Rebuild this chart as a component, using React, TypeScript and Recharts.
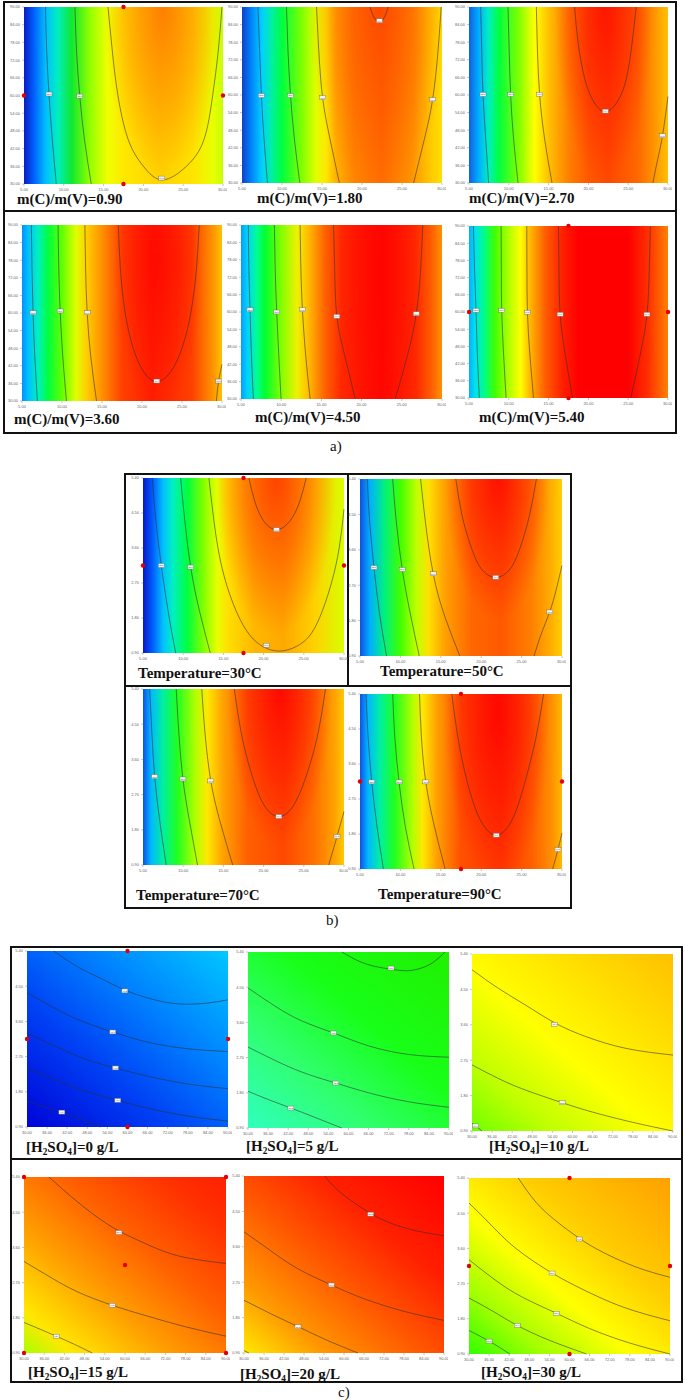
import React from 'react';
import { ComposedChart, Line, Scatter, XAxis, YAxis, ReferenceArea } from 'recharts';

type P = [number, number];
type L = [number, number, string];

// axis ticks
const abXTicks = [5, 10, 15, 20, 25, 30];
const aYTicks = [30, 36, 42, 48, 54, 60, 66, 72, 78, 84, 90];
const ratioTicks = [0.9, 1.8, 2.7, 3.6, 4.5, 5.4];
const cXTicks = [30, 36, 42, 48, 54, 60, 66, 72, 78, 84, 90];

// panel titles
const aTitles = ['0.90', '1.80', '2.70', '3.60', '4.50', '5.40'];
const bTitles = ['30', '50', '70', '90'];
const cTitles = ['0', '5', '10', '15', '20', '30'];

// design points
const aDots: P[] = [[17.5, 90], [5, 60], [30, 60], [17.5, 30]];
const bDots: P[] = [[17.5, 5.4], [5, 3.15], [30, 3.15], [17.5, 0.9]];
const cDots: P[] = [[60, 5.4], [30, 3.15], [90, 3.15], [60, 0.9]];
const c4Dots: P[] = [[30, 5.4], [90, 5.4], [30, 0.9], [90, 0.9], [60, 3.15]];

// ---- a) contours
const a1Lines: P[][] = [
  [[7.7, 90], [7.85, 75], [8.15, 60], [8.55, 45], [9.05, 30]],
  [[11.4, 90], [11.6, 75], [12.0, 60], [12.6, 45], [13.45, 30]],
  [[15.55, 90], [16.1, 75], [16.8, 60], [18.1, 45], [20.0, 36], [22.4, 31.4], [25.4, 36], [27.6, 45], [28.7, 60], [29.4, 75], [29.87, 90]],
];
const a1Labels: L[] = [[8.14, 60.5, '48.5'], [12.0, 59.8, '58.0'], [22.3, 32, '67.5']];

const a2Lines: P[][] = [
  [[7.0, 90], [7.2, 75], [7.42, 60], [7.75, 45], [8.18, 30]],
  [[10.56, 90], [10.75, 75], [11.06, 60], [11.55, 45], [12.23, 30]],
  [[14.32, 90], [14.6, 75], [15.08, 59], [16.0, 45], [17.17, 30]],
  [[29.9, 90], [29.5, 75], [28.83, 58.5], [27.8, 45], [26.45, 30]],
  [[21.0, 90], [21.5, 86.5], [22.18, 84.8], [22.8, 86.5], [23.3, 90]],
];
const a2Labels: L[] = [[7.42, 59.8, '48.5'], [11.06, 59.8, '58.0'], [15.08, 59.1, '67.5'], [28.83, 58.4, '67.5'], [22.18, 85.3, '77.1']];

const a3Lines: P[][] = [
  [[6.47, 90], [6.6, 75], [6.76, 60], [7.1, 45], [7.47, 30]],
  [[9.9, 90], [10.05, 75], [10.23, 60], [10.6, 45], [11.16, 30]],
  [[13.46, 90], [13.6, 75], [13.88, 60], [14.5, 45], [15.43, 30]],
  [[18.27, 90], [18.7, 78], [19.5, 66], [20.6, 58], [22.13, 54.3], [23.7, 58], [24.8, 66], [25.5, 78], [26.0, 90]],
  [[28.1, 30], [28.7, 38], [29.3, 46], [30, 59.5]],
];
const a3Labels: L[] = [[6.76, 60.2, '48.5'], [10.23, 60.2, '58.0'], [13.88, 60.2, '67.5'], [22.13, 54.5, '77.1'], [29.3, 46.1, '67.5']];

const a4Lines: P[][] = [
  [[6.17, 90], [6.25, 75], [6.38, 60], [6.6, 45], [6.92, 30]],
  [[9.51, 90], [9.6, 75], [9.77, 60.7], [10.1, 45], [10.56, 30]],
  [[12.86, 90], [12.95, 75], [13.15, 60], [13.6, 45], [14.32, 30]],
  [[17.04, 90], [17.3, 75], [17.9, 60], [18.9, 48], [20.2, 40], [21.85, 36.6], [23.6, 40], [25.0, 48], [26.1, 60], [26.8, 75], [27.16, 90]],
  [[29.29, 30], [29.58, 36.8], [30, 42.5]],
];
const a4Labels: L[] = [[6.38, 60.1, '48.5'], [9.77, 60.7, '58.0'], [13.15, 60.1, '67.5'], [21.85, 36.8, '77.1'], [29.58, 36.8, '67.5']];

const a5Lines: P[][] = [
  [[5.91, 90], [5.98, 75], [6.12, 60.8], [6.3, 45], [6.54, 30]],
  [[9.15, 90], [9.25, 75], [9.44, 60], [9.7, 45], [9.98, 30]],
  [[12.35, 90], [12.45, 75], [12.64, 60.8], [13.05, 45], [13.6, 30]],
  [[16.5, 90], [16.65, 75], [16.92, 58.5], [17.9, 45], [19.2, 30]],
  [[27.6, 90], [27.35, 75], [26.8, 59.4], [25.7, 45], [24.19, 30]],
];
const a5Labels: L[] = [[6.12, 60.8, '48.5'], [9.44, 60, '58.0'], [12.64, 60.8, '67.5'], [16.92, 58.5, '77.1'], [26.8, 59.4, '77.1']];

const a6Lines: P[][] = [
  [[5.55, 90], [5.7, 75], [5.88, 60.6], [6.05, 45], [6.3, 30]],
  [[9.03, 90], [9.06, 75], [9.11, 60.6], [9.35, 45], [9.66, 30]],
  [[12.26, 90], [12.28, 75], [12.34, 59.9], [12.65, 45], [13.1, 30]],
  [[16.24, 90], [16.3, 75], [16.45, 59.2], [17.1, 45], [18.0, 30]],
  [[27.78, 90], [27.65, 75], [27.36, 59.2], [26.5, 45], [25.34, 30]],
];
const a6Labels: L[] = [[5.88, 60.6, '48.5'], [9.11, 60.6, '58.0'], [12.34, 59.9, '67.5'], [16.45, 59.2, '77.1'], [27.36, 59.2, '77.1']];

// ---- b) contours
const b1Lines: P[][] = [
  [[6.16, 5.4], [6.6, 4.3], [7.28, 3.15], [8.1, 2.0], [9.06, 0.9]],
  [[9.68, 5.4], [10.2, 4.3], [10.93, 3.11], [12.0, 2.0], [13.37, 0.9]],
  [[13.2, 5.4], [13.7, 4.5], [14.5, 3.4], [15.8, 2.4], [17.5, 1.6], [19.5, 1.12], [22.0, 0.95], [24.5, 1.12], [26.5, 1.6], [28.3, 2.6], [29.4, 3.6], [30, 4.6]],
  [[18.18, 5.4], [18.9, 4.8], [20.0, 4.3], [21.6, 4.07], [23.3, 4.3], [24.5, 4.8], [25.3, 5.4]],
];
const b1Labels: L[] = [[7.28, 3.15, '48.5'], [10.93, 3.11, '58.0'], [20.34, 1.1, '67.5'], [21.6, 4.07, '77.1']];

const b2Lines: P[][] = [
  [[5.9, 5.4], [6.2, 4.3], [6.73, 3.15], [7.4, 2.0], [8.29, 0.9]],
  [[9.04, 5.4], [9.5, 4.3], [10.23, 3.1], [11.2, 2.0], [12.33, 0.9]],
  [[12.5, 5.4], [13.1, 4.3], [14.06, 2.99], [15.5, 1.9], [17.36, 0.9]],
  [[16.86, 5.4], [17.6, 4.5], [18.7, 3.7], [20.0, 3.12], [21.8, 2.9], [23.6, 3.12], [24.9, 3.7], [26.0, 4.5], [26.83, 5.4]],
  [[26.54, 0.9], [27.5, 1.5], [28.48, 2.02], [29.3, 2.6], [30, 3.2]],
];
const b2Labels: L[] = [[6.73, 3.15, '48.5'], [10.23, 3.1, '58.0'], [14.06, 2.99, '67.5'], [21.8, 2.9, '77.1'], [28.48, 2.02, '67.5']];

const b3Lines: P[][] = [
  [[5.83, 5.4], [6.1, 4.3], [6.45, 3.16], [7.1, 2.0], [7.89, 0.9]],
  [[9.13, 5.4], [9.45, 4.3], [9.96, 3.1], [10.8, 2.0], [11.78, 0.9]],
  [[12.31, 5.4], [12.7, 4.3], [13.43, 3.05], [14.6, 2.0], [16.16, 0.9]],
  [[16.36, 5.4], [17.2, 4.3], [18.4, 3.3], [20.0, 2.45], [21.9, 2.14], [23.8, 2.45], [25.5, 3.3], [26.8, 4.3], [27.69, 5.4]],
  [[28.1, 0.9], [29.13, 1.63], [30, 2.27]],
];
const b3Labels: L[] = [[6.45, 3.16, '48.5'], [9.96, 3.1, '58.0'], [13.43, 3.05, '67.5'], [21.9, 2.14, '77.1'], [29.13, 1.63, '67.5']];

const b4Lines: P[][] = [
  [[5.74, 5.4], [6.0, 4.3], [6.45, 3.14], [7.1, 2.0], [7.89, 0.9]],
  [[9.05, 5.4], [9.3, 4.3], [9.83, 3.14], [10.6, 2.0], [11.69, 0.9]],
  [[12.36, 5.4], [12.6, 4.3], [13.14, 3.14], [14.2, 2.0], [15.54, 0.9]],
  [[16.36, 5.4], [17.1, 4.3], [18.2, 3.2], [19.8, 2.2], [21.86, 1.77], [23.9, 2.2], [25.5, 3.2], [26.8, 4.3], [27.73, 5.4]],
  [[28.84, 0.9], [29.5, 1.4], [30, 1.83]],
];
const b4Labels: L[] = [[6.45, 3.14, '48.5'], [9.83, 3.14, '58.0'], [13.14, 3.14, '67.5'], [21.86, 1.77, '77.1'], [29.5, 1.4, '67.5']];

// ---- c) contours
const c1Lines: P[][] = [
  [[38, 5.4], [45, 5.0], [52, 4.7], [59.2, 4.4], [66, 4.2], [72, 4.08], [78, 4.04], [84, 4.07], [90, 4.15]],
  [[30, 4.33], [38, 3.95], [46, 3.62], [55.6, 3.33], [66, 3.07], [78, 2.9], [90, 2.83]],
  [[30, 3.3], [40, 2.9], [48, 2.62], [56.4, 2.41], [66, 2.2], [78, 2.0], [90, 1.88]],
  [[30, 2.41], [40, 2.05], [48, 1.8], [57.1, 1.58], [66, 1.38], [78, 1.18], [90, 1.05]],
  [[30, 1.56], [35, 1.42], [40.4, 1.28], [46, 1.1], [51.9, 0.9]],
];
const c1Labels: L[] = [[59.2, 4.38, '19.4'], [55.6, 3.33, '16.3'], [56.4, 2.41, '13.2'], [57.1, 1.58, '10.1'], [40.4, 1.28, '7.0']];

const c2Lines: P[][] = [
  [[58, 5.4], [63, 5.17], [68, 5.03], [72.7, 4.96], [77, 4.92], [81, 4.97], [85, 5.12], [88.8, 5.4]],
  [[30, 4.48], [38, 4.02], [46, 3.64], [55.5, 3.33], [66, 3.0], [78, 2.78], [90, 2.71]],
  [[30, 2.97], [40, 2.55], [48, 2.27], [56.2, 2.05], [66, 1.8], [78, 1.57], [90, 1.43]],
  [[30, 1.84], [36, 1.63], [42.8, 1.41], [50, 1.17], [58, 0.9]],
];
const c2Labels: L[] = [[72.7, 4.99, '38.7'], [55.5, 3.33, '35.6'], [56.2, 2.05, '32.5'], [42.8, 1.41, '29.4']];

const c3Lines: P[][] = [
  [[30, 5.0], [38, 4.52], [46, 4.1], [54.7, 3.65], [64, 3.3], [76, 3.0], [90, 2.83]],
  [[30, 2.58], [38, 2.23], [46, 1.94], [56.9, 1.62], [66, 1.38], [78, 1.12], [90, 0.9]],
  [[30, 1.1], [31.5, 1.0], [33, 0.9]],
];
const c3Labels: L[] = [[54.7, 3.61, '57.9'], [56.9, 1.62, '54.8'], [31.1, 1.03, '51.7']];

const c4Lines: P[][] = [
  [[37.4, 5.4], [44, 4.9], [51, 4.42], [58.2, 4.02], [66, 3.7], [76, 3.38], [90, 3.19]],
  [[30, 3.24], [38, 2.83], [46, 2.46], [56.2, 2.12], [66, 1.86], [78, 1.57], [90, 1.33]],
  [[30, 1.68], [35, 1.5], [39.6, 1.33], [45, 1.12], [50.3, 0.9]],
];
const c4Labels: L[] = [[58.2, 3.98, '80.3'], [56.2, 2.12, '77.2'], [39.6, 1.33, '74.1']];

const c5Lines: P[][] = [
  [[54.2, 5.4], [58, 5.05], [63, 4.72], [68, 4.45], [74, 4.2], [82, 4.0], [90, 3.88]],
  [[30, 3.98], [38, 3.5], [46, 3.05], [56.2, 2.63], [66, 2.28], [78, 1.96], [90, 1.73]],
  [[30, 2.24], [38, 1.9], [46.2, 1.57], [55, 1.22], [64.2, 0.9]],
  [[30, 0.96], [31.5, 0.9]],
];
const c5Labels: L[] = [[68, 4.43, '86.4'], [56.2, 2.63, '83.3'], [46.2, 1.57, '80.2']];

const c6Lines: P[][] = [
  [[44.7, 5.4], [50, 4.78], [56, 4.3], [62.9, 3.86], [70, 3.5], [80, 3.12], [90, 2.86]],
  [[30, 4.76], [36, 4.25], [44, 3.6], [54.8, 2.97], [64, 2.55], [76, 2.1], [90, 1.75]],
  [[30, 3.31], [38, 2.78], [46, 2.35], [56.1, 1.94], [66, 1.55], [78, 1.18], [90, 0.9]],
  [[30, 2.33], [37, 2.0], [44.4, 1.63], [54, 1.25], [65.1, 0.9]],
  [[30, 1.5], [36, 1.23], [42.2, 0.9]],
];
const c6Labels: L[] = [[62.9, 3.84, '71.2'], [54.8, 2.97, '68.1'], [56.1, 1.94, '65.0'], [44.4, 1.63, '61.9'], [36, 1.23, '58.8']];

// ---- colour fills (styles)
type Stop = [number, string];
type Hot = { cx: number; cy: number; rx: number; ry: number; color: string; op: number };

const fills: Record<string, { stops: Stop[]; hot?: Hot; diag?: boolean }> = {
  a1: {
    stops: [[0, '#0a1cc0'], [0.05, '#0060ff'], [0.11, '#00c0ff'], [0.17, '#00eec0'], [0.24, '#10e830'], [0.33, '#90ff00'], [0.42, '#f0ff00'], [0.5, '#ffe800'], [0.68, '#ffd400'], [0.85, '#ffe400'], [0.95, '#e8ff00'], [1, '#c8ff00']],
    hot: { cx: 0.7, cy: 0, rx: 0.3, ry: 1.0, color: '#ff7000', op: 0.85 },
  },
  a2: {
    stops: [[0, '#1040c8'], [0.05, '#0088ff'], [0.1, '#00d0ff'], [0.15, '#00f0a0'], [0.2, '#00ff40'], [0.3, '#80ff00'], [0.37, '#e0ff00'], [0.42, '#ffe800'], [0.47, '#ffb000'], [0.56, '#ff8800'], [0.7, '#ff7000'], [0.85, '#ff9400'], [0.95, '#ffcc00'], [1, '#ffe000']],
    hot: { cx: 0.68, cy: 0, rx: 0.35, ry: 1.1, color: '#ff3000', op: 0.6 },
  },
  a3: {
    stops: [[0, '#1060e0'], [0.05, '#00b0ff'], [0.1, '#00f0c0'], [0.15, '#00ff40'], [0.25, '#80ff00'], [0.33, '#ffff00'], [0.4, '#ffc000'], [0.5, '#ff8000'], [0.6, '#ff5800'], [0.7, '#ff4800'], [0.85, '#ff6800'], [0.95, '#ffa000'], [1, '#ffc000']],
    hot: { cx: 0.68, cy: 0, rx: 0.25, ry: 1.0, color: '#ff0000', op: 0.7 },
  },
  a4: {
    stops: [[0, '#0090ff'], [0.03, '#00c0ff'], [0.08, '#00f0c0'], [0.13, '#00ff40'], [0.2, '#60ff00'], [0.27, '#e0ff00'], [0.32, '#ffd000'], [0.4, '#ff9000'], [0.5, '#ff4000'], [0.65, '#ff2000'], [0.85, '#ff4000'], [0.95, '#ff9000'], [1, '#ffc000']],
    hot: { cx: 0.68, cy: 0.2, rx: 0.22, ry: 0.9, color: '#ff0000', op: 0.7 },
  },
  a5: {
    stops: [[0, '#00a0ff'], [0.03, '#00d0ff'], [0.08, '#00ff90'], [0.12, '#00ff30'], [0.2, '#80ff00'], [0.28, '#f0f000'], [0.33, '#ffc000'], [0.42, '#ff6000'], [0.5, '#ff2800'], [0.7, '#ff0800'], [0.87, '#ff2800'], [0.95, '#ff6000'], [1, '#ff9000']],
    hot: { cx: 0.68, cy: 0.3, rx: 0.2, ry: 1.2, color: '#ff0000', op: 0.5 },
  },
  a6: {
    stops: [[0, '#00b0ff'], [0.03, '#00e0f0'], [0.08, '#00ff80'], [0.13, '#40ff00'], [0.2, '#b0ff00'], [0.26, '#ffff00'], [0.3, '#ffc000'], [0.38, '#ff6000'], [0.47, '#ff2000'], [0.55, '#ff0000'], [0.8, '#ff0000'], [0.9, '#ff3000'], [1, '#ff8000']],
  },
  b1: {
    stops: [[0, '#0818c8'], [0.05, '#0060ff'], [0.1, '#00c0ff'], [0.15, '#00f0c0'], [0.22, '#00ff40'], [0.3, '#80ff00'], [0.37, '#e8ff00'], [0.42, '#ffe000'], [0.55, '#ffb800'], [0.7, '#ffa800'], [0.85, '#ffd000'], [1, '#d8ff00']],
    hot: { cx: 0.66, cy: 0, rx: 0.3, ry: 0.9, color: '#ff3000', op: 0.85 },
  },
  b2: {
    stops: [[0, '#1050e0'], [0.05, '#00b0ff'], [0.12, '#00f080'], [0.2, '#40ff00'], [0.28, '#c0ff00'], [0.34, '#ffe000'], [0.42, '#ffa000'], [0.55, '#ff6800'], [0.7, '#ff5800'], [0.85, '#ff8000'], [0.95, '#ffb000'], [1, '#ffd000']],
    hot: { cx: 0.68, cy: 0, rx: 0.26, ry: 0.8, color: '#ff0000', op: 0.8 },
  },
  b3: {
    stops: [[0, '#1050e8'], [0.04, '#00b8ff'], [0.1, '#00f0a0'], [0.17, '#20ff20'], [0.26, '#b0ff00'], [0.32, '#ffe800'], [0.4, '#ffa000'], [0.52, '#ff6000'], [0.7, '#ff4800'], [0.85, '#ff7000'], [0.95, '#ffa000'], [1, '#ffc800']],
    hot: { cx: 0.68, cy: 0, rx: 0.26, ry: 0.9, color: '#ff0000', op: 0.85 },
  },
  b4: {
    stops: [[0, '#1050e8'], [0.04, '#00b8ff'], [0.1, '#00f0a0'], [0.17, '#20ff20'], [0.26, '#b0ff00'], [0.31, '#ffe800'], [0.38, '#ffa000'], [0.5, '#ff5000'], [0.7, '#ff3800'], [0.85, '#ff6000'], [0.95, '#ff9000'], [1, '#ffb800']],
    hot: { cx: 0.68, cy: 0.1, rx: 0.26, ry: 1.0, color: '#ff0000', op: 0.85 },
  },
  c1: { diag: true, stops: [[0, '#0004d8'], [0.35, '#0040f4'], [0.65, '#0080ff'], [1, '#00c8ff']] },
  c2: { diag: true, stops: [[0, '#30ffc0'], [0.3, '#30ff70'], [0.6, '#18ff18'], [1, '#20f000']] },
  c3: { diag: true, stops: [[0, '#70ff00'], [0.2, '#c0ff00'], [0.45, '#ffff00'], [0.75, '#ffdc00'], [1, '#ffc000']] },
  c4: { diag: true, stops: [[0, '#a8ff00'], [0.12, '#ffe800'], [0.35, '#ffa000'], [0.6, '#ff6000'], [0.85, '#ff3000'], [1, '#ff2000']] },
  c5: { diag: true, stops: [[0, '#ffe800'], [0.2, '#ff9800'], [0.45, '#ff5800'], [0.7, '#ff2000'], [1, '#ff0000']] },
  c6: { diag: true, stops: [[0, '#30ff00'], [0.18, '#a0ff00'], [0.4, '#ffff00'], [0.65, '#ffcc00'], [1, '#ffa000']] },
};

const serif = "'Liberation Serif', 'Times New Roman', serif";

const LabelBox = (props: any) => {
  const { cx, cy, payload } = props;
  if (cx == null || cy == null) return null;
  return (
    <g>
      <rect x={cx - 3} y={cy - 2} width={6} height={4} fill="#f2f2f2" stroke="#6a6a6a" strokeWidth={0.4} />
      <text x={cx} y={cy + 0.9} fontSize={2.4} textAnchor="middle" fill="#333">{payload.v}</text>
    </g>
  );
};

const RedDot = (props: any) => {
  const { cx, cy } = props;
  if (cx == null || cy == null) return null;
  return <circle cx={cx} cy={cy} r={2.2} fill="#e40000" />;
};

interface PanelProps {
  id: string;
  box: [number, number, number, number];
  xDom: [number, number];
  yDom: [number, number];
  xTicks: number[];
  yTicks: number[];
  lines: P[][];
  labels: L[];
  dots?: P[];
}

const Panel: React.FC<PanelProps> = ({ id, box, xDom, yDom, xTicks, yTicks, lines, labels, dots }) => {
  const [x0, y0, x1, y1] = box;
  const f = fills[id];
  const hot = f.hot;
  const labelData = labels.map(([x, y, v]) => ({ x, y, v }));
  const dotData = (dots || []).map(([x, y]) => ({ x, y }));
  const tickStyle = { fontSize: 4, fill: '#666', fontFamily: 'Arial, sans-serif' };
  return (
    <div style={{ position: 'absolute', left: x0 - 18, top: y0 - 4 }}>
      <ComposedChart width={x1 - x0 + 22} height={y1 - y0 + 14} margin={{ top: 4, right: 4, bottom: 0, left: 0 }}>
        <defs>
          <linearGradient id={`bg-${id}`} x1="0" y1={f.diag ? '1' : '0'} x2="1" y2="0">
            {f.stops.map(([o, c], i) => <stop key={i} offset={o} stopColor={c} />)}
          </linearGradient>
          {hot && (
            <radialGradient
              id={`hot-${id}`}
              cx={hot.cx}
              cy={hot.cy}
              r={1}
              gradientTransform={`translate(${hot.cx} ${hot.cy}) scale(${hot.rx} ${hot.ry}) translate(${-hot.cx} ${-hot.cy})`}
            >
              <stop offset={0} stopColor={hot.color} stopOpacity={hot.op} />
              <stop offset={0.55} stopColor={hot.color} stopOpacity={hot.op * 0.5} />
              <stop offset={1} stopColor={hot.color} stopOpacity={0} />
            </radialGradient>
          )}
        </defs>
        <XAxis
          type="number"
          dataKey="x"
          domain={xDom}
          ticks={xTicks}
          interval={0}
          height={10}
          axisLine={false}
          tickSize={2}
          tickLine={{ stroke: '#888', strokeWidth: 0.5 }}
          tick={tickStyle}
          tickFormatter={(v: number) => v.toFixed(2)}
        />
        <YAxis
          type="number"
          dataKey="y"
          domain={yDom}
          ticks={yTicks}
          interval={0}
          width={18}
          axisLine={false}
          tickSize={2}
          tickLine={{ stroke: '#888', strokeWidth: 0.5 }}
          tick={tickStyle}
          tickFormatter={(v: number) => v.toFixed(2)}
        />
        <ReferenceArea x1={xDom[0]} x2={xDom[1]} y1={yDom[0]} y2={yDom[1]} fill={`url(#bg-${id})`} fillOpacity={1} stroke="none" />
        {hot && (
          <ReferenceArea x1={xDom[0]} x2={xDom[1]} y1={yDom[0]} y2={yDom[1]} fill={`url(#hot-${id})`} fillOpacity={1} stroke="none" />
        )}
        {lines.map((ln, i) => (
          <Line
            key={i}
            data={ln.map(([x, y]) => ({ x, y }))}
            dataKey="y"
            type="natural"
            dot={false}
            activeDot={false}
            stroke="#2e2e2e"
            strokeOpacity={0.8}
            strokeWidth={0.7}
            isAnimationActive={false}
          />
        ))}
        <Scatter data={labelData} dataKey="y" shape={LabelBox} isAnimationActive={false} />
        {dotData.length > 0 && <Scatter data={dotData} dataKey="y" shape={RedDot} isAnimationActive={false} />}
      </ComposedChart>
    </div>
  );
};

const Title: React.FC<{ x: number; base: number; children: React.ReactNode }> = ({ x, base, children }) => (
  <div
    style={{
      position: 'absolute',
      left: x,
      top: base - 12.6,
      fontFamily: serif,
      fontWeight: 'bold',
      fontSize: 15,
      lineHeight: '15px',
      whiteSpace: 'nowrap',
      color: '#111',
    }}
  >
    {children}
  </div>
);

const Acid: React.FC<{ v: string }> = ({ v }) => (
  <>
    [H<sub style={{ fontSize: '0.62em', verticalAlign: '-0.3em', lineHeight: 0 }}>2</sub>SO
    <sub style={{ fontSize: '0.62em', verticalAlign: '-0.3em', lineHeight: 0 }}>4</sub>]={v} g/L
  </>
);

const Box: React.FC<{ l: number; t: number; r: number; b: number }> = ({ l, t, r, b }) => (
  <div style={{ position: 'absolute', left: l, top: t, width: r - l, height: b - t, border: '2px solid #111', boxSizing: 'border-box' }} />
);

const Rule: React.FC<{ l: number; t: number; w: number; h: number }> = ({ l, t, w, h }) => (
  <div style={{ position: 'absolute', left: l, top: t, width: w, height: h, background: '#111' }} />
);

const SectionTag: React.FC<{ x: number; base: number; text: string }> = ({ x, base, text }) => (
  <div style={{ position: 'absolute', left: x, top: base - 12.6, fontFamily: serif, fontSize: 15, lineHeight: '15px', color: '#111' }}>
    {text}
  </div>
);

export default function App() {
  const aDom: [number, number] = [5, 30];
  const aY: [number, number] = [30, 90];
  const rY: [number, number] = [0.9, 5.4];
  const cDom: [number, number] = [30, 90];
  return (
    <div style={{ position: 'absolute', left: 0, top: 0, width: 685, height: 1400, background: '#fff', overflow: 'hidden' }}>
      {/* a) */}
      <Box l={3} t={1} r={677} b={434} />
      <Rule l={3} t={210} w={674} h={2} />
      <Panel id="a1" box={[24, 7, 223, 184]} xDom={aDom} yDom={aY} xTicks={abXTicks} yTicks={aYTicks} lines={a1Lines} labels={a1Labels} dots={aDots} />
      <Panel id="a2" box={[242, 7, 442, 183]} xDom={aDom} yDom={aY} xTicks={abXTicks} yTicks={aYTicks} lines={a2Lines} labels={a2Labels} />
      <Panel id="a3" box={[469, 7, 668, 183]} xDom={aDom} yDom={aY} xTicks={abXTicks} yTicks={aYTicks} lines={a3Lines} labels={a3Labels} />
      <Panel id="a4" box={[22, 225, 222, 401]} xDom={aDom} yDom={aY} xTicks={abXTicks} yTicks={aYTicks} lines={a4Lines} labels={a4Labels} />
      <Panel id="a5" box={[241, 225, 442, 399]} xDom={aDom} yDom={aY} xTicks={abXTicks} yTicks={aYTicks} lines={a5Lines} labels={a5Labels} />
      <Panel id="a6" box={[469, 226, 668, 398]} xDom={aDom} yDom={aY} xTicks={abXTicks} yTicks={aYTicks} lines={a6Lines} labels={a6Labels} dots={aDots} />
      <Title x={17} base={205}>m(C)/m(V)={aTitles[0]}</Title>
      <Title x={257} base={204}>m(C)/m(V)={aTitles[1]}</Title>
      <Title x={469} base={204}>m(C)/m(V)={aTitles[2]}</Title>
      <Title x={14} base={425}>m(C)/m(V)={aTitles[3]}</Title>
      <Title x={255} base={423}>m(C)/m(V)={aTitles[4]}</Title>
      <Title x={479} base={423}>m(C)/m(V)={aTitles[5]}</Title>
      <SectionTag x={330} base={452} text="a)" />

      {/* b) */}
      <Box l={124} t={473} r={572} b={909} />
      <Rule l={124} t={685} w={448} h={2} />
      <Rule l={347} t={473} w={1.5} h={213} />
      <Panel id="b1" box={[143, 478, 344, 653]} xDom={aDom} yDom={rY} xTicks={abXTicks} yTicks={ratioTicks} lines={b1Lines} labels={b1Labels} dots={bDots} />
      <Panel id="b2" box={[360, 479, 562, 656]} xDom={aDom} yDom={rY} xTicks={abXTicks} yTicks={ratioTicks} lines={b2Lines} labels={b2Labels} />
      <Panel id="b3" box={[143, 689, 344, 865]} xDom={aDom} yDom={rY} xTicks={abXTicks} yTicks={ratioTicks} lines={b3Lines} labels={b3Labels} />
      <Panel id="b4" box={[360, 694, 562, 869]} xDom={aDom} yDom={rY} xTicks={abXTicks} yTicks={ratioTicks} lines={b4Lines} labels={b4Labels} dots={bDots} />
      <Title x={138} base={679}>Temperature={bTitles[0]}°C</Title>
      <Title x={380} base={677}>Temperature={bTitles[1]}°C</Title>
      <Title x={136} base={901}>Temperature={bTitles[2]}°C</Title>
      <Title x={378} base={900}>Temperature={bTitles[3]}°C</Title>
      <SectionTag x={326} base={926} text="b)" />

      {/* c) */}
      <Box l={10} t={946} r={683} b={1383} />
      <Rule l={10} t={1158} w={673} h={2} />
      <Panel id="c1" box={[27, 951, 228, 1127]} xDom={cDom} yDom={rY} xTicks={cXTicks} yTicks={ratioTicks} lines={c1Lines} labels={c1Labels} dots={cDots} />
      <Panel id="c2" box={[248, 952, 449, 1128]} xDom={cDom} yDom={rY} xTicks={cXTicks} yTicks={ratioTicks} lines={c2Lines} labels={c2Labels} />
      <Panel id="c3" box={[472, 954, 673, 1131]} xDom={cDom} yDom={rY} xTicks={cXTicks} yTicks={ratioTicks} lines={c3Lines} labels={c3Labels} />
      <Panel id="c4" box={[24, 1177, 226, 1353]} xDom={cDom} yDom={rY} xTicks={cXTicks} yTicks={ratioTicks} lines={c4Lines} labels={c4Labels} dots={c4Dots} />
      <Panel id="c5" box={[244, 1176, 444, 1353]} xDom={cDom} yDom={rY} xTicks={cXTicks} yTicks={ratioTicks} lines={c5Lines} labels={c5Labels} />
      <Panel id="c6" box={[469, 1178, 670, 1354]} xDom={cDom} yDom={rY} xTicks={cXTicks} yTicks={ratioTicks} lines={c6Lines} labels={c6Labels} dots={cDots} />
      <Title x={26} base={1153}><Acid v={cTitles[0]} /></Title>
      <Title x={246} base={1152}><Acid v={cTitles[1]} /></Title>
      <Title x={489} base={1152}><Acid v={cTitles[2]} /></Title>
      <Title x={28} base={1378}><Acid v={cTitles[3]} /></Title>
      <Title x={240} base={1380}><Acid v={cTitles[4]} /></Title>
      <Title x={481} base={1378}><Acid v={cTitles[5]} /></Title>
      <SectionTag x={338} base={1398} text="c)" />
    </div>
  );
}
